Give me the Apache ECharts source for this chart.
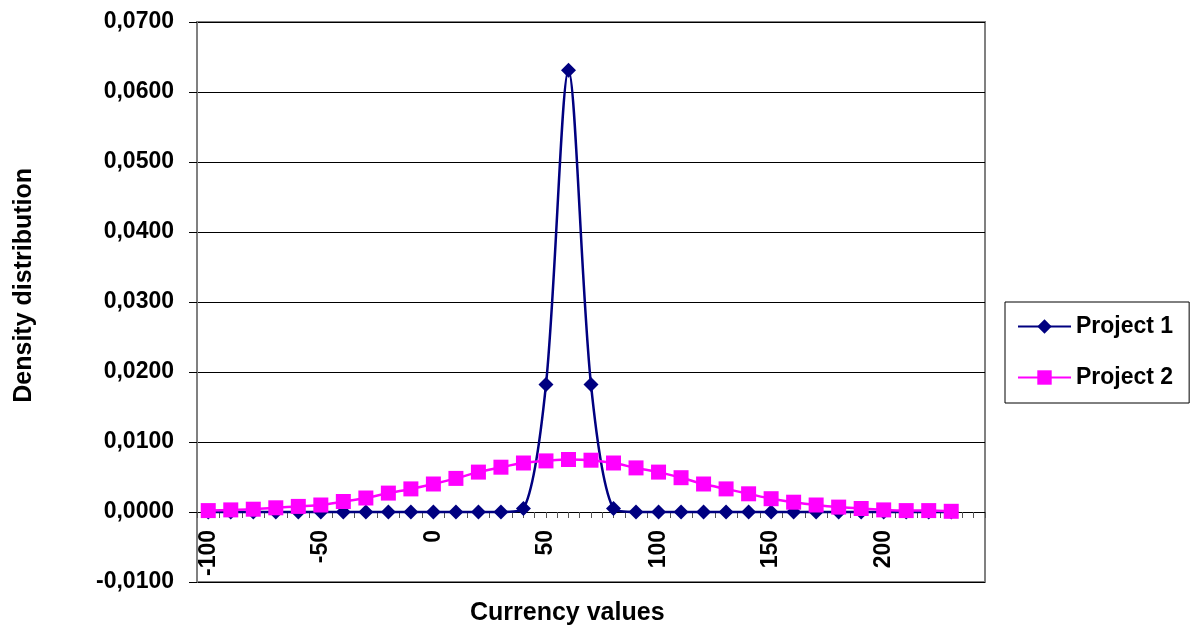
<!DOCTYPE html>
<html>
<head>
<meta charset="utf-8">
<script src="https://cdn.jsdelivr.net/npm/echarts@6/dist/echarts.min.js"></script>
<style>
  html, body { margin: 0; padding: 0; background: #fff; }
  #chart { width: 1192px; height: 630px; }
</style>
</head>
<body>
<div id="chart"></div>
<script>
// Currency values (x) sampled every 10 units
const currencyValues = [-100, -90, -80, -70, -60, -50, -40, -30, -20, -10, 0, 10, 20, 30, 40, 50, 60,
  70, 80, 90, 100, 110, 120, 130, 140, 150, 160, 170, 180, 190, 200, 210, 220, 230];

// Density of each project at those values
const project1 = [0, 0, 0, 0, 0, 0, 0, 0, 0, 0, 0, 0, 0, 0, 0.0005, 0.0182, 0.0631,
  0.0182, 0.0005, 0, 0, 0, 0, 0, 0, 0, 0, 0, 0, 0, 0, 0, 0, 0];
const project2 = [0.0002, 0.0003, 0.0004, 0.0006, 0.0008, 0.0010, 0.0015, 0.0020, 0.0027, 0.0033,
  0.0040, 0.0048, 0.0057, 0.0064, 0.0070, 0.0073, 0.0075, 0.0074, 0.0070, 0.0063, 0.0057,
  0.0049, 0.0040, 0.0033, 0.0026, 0.0019, 0.0014, 0.0010, 0.0007, 0.0005, 0.0003, 0.0002,
  0.0002, 0.0001];

const seriesNames = ['Project 1', 'Project 2'];
const xLabelValues = [-100, -50, 0, 50, 100, 150, 200];

const FONT = '"Liberation Sans", Arial, sans-serif';

const pairs = ys => currencyValues.map((x, i) => [x, ys[i]]);

const chart = echarts.init(document.getElementById('chart'), null, { renderer: 'canvas' });

// plot box geometry
const PLOT_TOP = 22, PLOT_BOTTOM = 48;
const Y_MIN = -0.01, Y_MAX = 0.07;
const plotHeight = 630 - PLOT_TOP - PLOT_BOTTOM;
// lift the category axis from the bottom edge up to the zero line
const zeroOffset = -plotHeight * (0 - Y_MIN) / (Y_MAX - Y_MIN);

chart.setOption({
  backgroundColor: '#ffffff',
  animation: false,
  grid: {
    left: 197, top: PLOT_TOP, right: 207, bottom: PLOT_BOTTOM,
    outerBoundsMode: 'none',
    containLabel: false,
    show: true, borderColor: '#808080', borderWidth: 2, backgroundColor: 'transparent'
  },
  legend: {
    orient: 'vertical',
    left: 1005, top: 302,
    padding: [13, 16, 14, 12],
    itemGap: 28,
    itemWidth: 53, itemHeight: 18,
    borderColor: '#000', borderWidth: 1,
    textStyle: { fontFamily: FONT, fontWeight: 'bold', fontSize: 23, color: '#000' },
    data: seriesNames
  },
  xAxis: {
    type: 'value',
    min: -105, max: 245, interval: 5,
    offset: zeroOffset,
    axisLine: { show: true, onZero: false, lineStyle: { color: '#000', width: 1 } },
    axisTick: { show: true, length: 6, lineStyle: { color: '#555' } },
    splitLine: { show: false },
    axisLabel: {
      rotate: 90, margin: 18,
      fontFamily: FONT, fontWeight: 'bold', fontSize: 23, color: '#000',
      formatter: v => xLabelValues.includes(Math.round(v)) ? String(Math.round(v)) : ''
    }
  },
  yAxis: {
    type: 'value',
    min: Y_MIN, max: Y_MAX, interval: 0.01,
    axisLine: { show: true, onZero: false, lineStyle: { color: '#808080', width: 2 } },
    axisTick: { show: true, length: 8, lineStyle: { color: '#000' } },
    splitLine: { show: true, lineStyle: { color: '#000', width: 1 } },
    axisLabel: {
      margin: 23,
      fontFamily: FONT, fontWeight: 'bold', fontSize: 23, color: '#000',
      formatter: v => {
        const n = Math.abs(v) < 1e-9 ? 0 : v;
        return n.toFixed(4).replace('.', ',');
      }
    }
  },
  graphic: [
    {
      type: 'text', left: 12, top: 168,
      rotation: Math.PI / 2,
      style: {
        text: 'Density distribution',
        font: 'bold 25px ' + FONT, fill: '#000'
      }
    },
    {
      type: 'text', left: 470, top: 601,
      style: {
        text: 'Currency values',
        font: 'bold 25px ' + FONT, fill: '#000'
      }
    }
  ],
  series: [
    {
      name: seriesNames[0], type: 'line', data: pairs(project1),
      smooth: 0.3,
      symbol: 'diamond', symbolSize: 15,
      lineStyle: { color: '#000080', width: 2.5 },
      itemStyle: { color: '#000080' },
      z: 2
    },
    {
      name: seriesNames[1], type: 'line', data: pairs(project2),
      smooth: 0.3,
      symbol: 'rect', symbolSize: 15,
      lineStyle: { color: '#ff00ff', width: 2.5 },
      itemStyle: { color: '#ff00ff' },
      z: 3
    }
  ]
});
</script>
</body>
</html>
